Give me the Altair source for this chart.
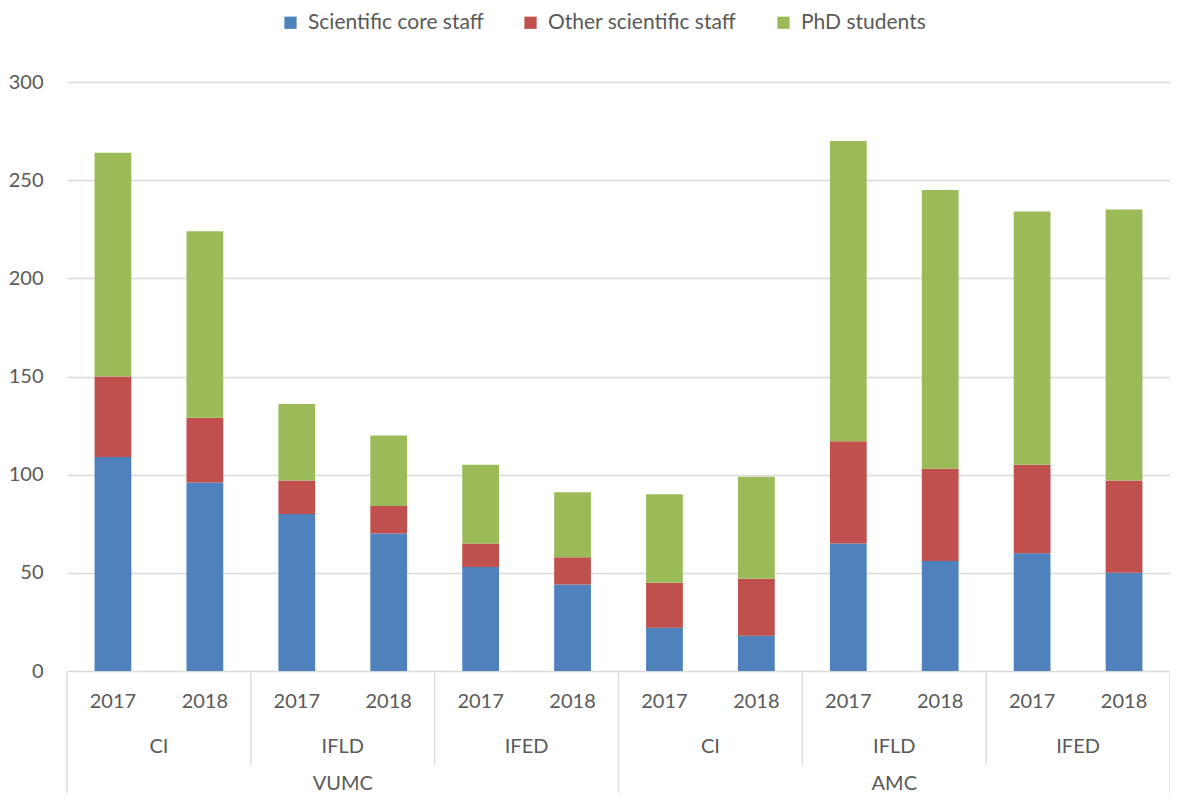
import altair as alt
import pandas as pd

hospitals = ["VUMC"] * 6 + ["AMC"] * 6
institutes = ["CI", "CI", "IFLD", "IFLD", "IFED", "IFED"] * 2
years = ["2017", "2018"] * 6
core = [109, 96, 80, 70, 53, 44, 22, 18, 65, 56, 60, 50]
other = [41, 33, 17, 14, 12, 14, 23, 29, 52, 47, 45, 47]
phd = [114, 95, 39, 36, 40, 33, 45, 52, 153, 142, 129, 138]
series = ["Scientific core staff", "Other scientific staff", "PhD students"]
colors = ["#4f81bd", "#c0504d", "#9bbb59"]
y_ticks = [0, 50, 100, 150, 200, 250, 300]

W, H = 1103, 589
FONT = "Lato"
TXT = "#595959"
GRID = "#d9d9d9"

rows = []
for i in range(len(years)):
    for k, (name, vals) in enumerate(zip(series, [core, other, phd])):
        rows.append({"idx": i, "series": name, "value": vals[i], "ord": k})
bars_df = pd.DataFrame(rows)

year_df = pd.DataFrame({"pos": [i + 0.5 for i in range(len(years))], "label": years})
inst_df = pd.DataFrame({"pos": [i + 1 for i in range(0, len(years), 2)],
                        "label": institutes[0::2]})
hosp_df = pd.DataFrame({"pos": [3, 9], "label": [hospitals[0], hospitals[6]]})
inner_df = pd.DataFrame({"pos": [2, 4, 8, 10]})
outer_df = pd.DataFrame({"pos": [0, 6, 12]})

xq = alt.X("pos:Q", scale=alt.Scale(domain=[0, 12], nice=False, zero=False), axis=None)

bars = alt.Chart(bars_df).mark_bar().encode(
    x=alt.X("idx:O", axis=None, scale=alt.Scale(paddingInner=0.6, paddingOuter=0.3)),
    y=alt.Y("value:Q", stack="zero",
            scale=alt.Scale(domain=[0, 300], nice=False),
            axis=alt.Axis(values=y_ticks, grid=True, gridColor=GRID, gridWidth=1.3,
                          ticks=False, domain=False, labelPadding=24,
                          labelFontSize=20, labelColor=TXT, labelFont=FONT, title=None)),
    color=alt.Color("series:N", scale=alt.Scale(domain=series, range=colors),
                    legend=alt.Legend(title=None, orient="none", direction="horizontal",
                                      legendX=213, legendY=-70, symbolType="square",
                                      symbolSize=150, symbolStrokeWidth=0,
                                      labelFontSize=21, labelFont=FONT, labelColor=TXT,
                                      labelLimit=400,
                                      labelOffset=7, columnPadding=36, padding=0)),
    order=alt.Order("ord:Q", sort="ascending"),
)

def text_layer(df, yval):
    return alt.Chart(df).mark_text(fontSize=20, font=FONT, color=TXT, baseline="middle").encode(
        x=xq, y=alt.value(yval), text="label:N")

years_t = text_layer(year_df, H + 31)
inst_t = text_layer(inst_df, H + 76)
hosp_t = text_layer(hosp_df, H + 113)

inner = alt.Chart(inner_df).mark_rule(color=GRID, strokeWidth=1.3).encode(
    x=xq, y=alt.value(H), y2=alt.value(H + 94))
outer = alt.Chart(outer_df).mark_rule(color=GRID, strokeWidth=1.3).encode(
    x=xq, y=alt.value(H), y2=alt.value(H + 140))

chart = alt.layer(bars, inner, outer, years_t, inst_t, hosp_t).resolve_scale(
    x="independent"
).properties(
    width=W, height=H,
    autosize=alt.AutoSizeParams(type="none"),
    padding={"left": 59, "top": 74, "right": 0, "bottom": 122},
).configure(font=FONT).configure_view(stroke="transparent", strokeWidth=0)

chart.save("out.html", embed_options={"renderer": "svg", "actions": False})
